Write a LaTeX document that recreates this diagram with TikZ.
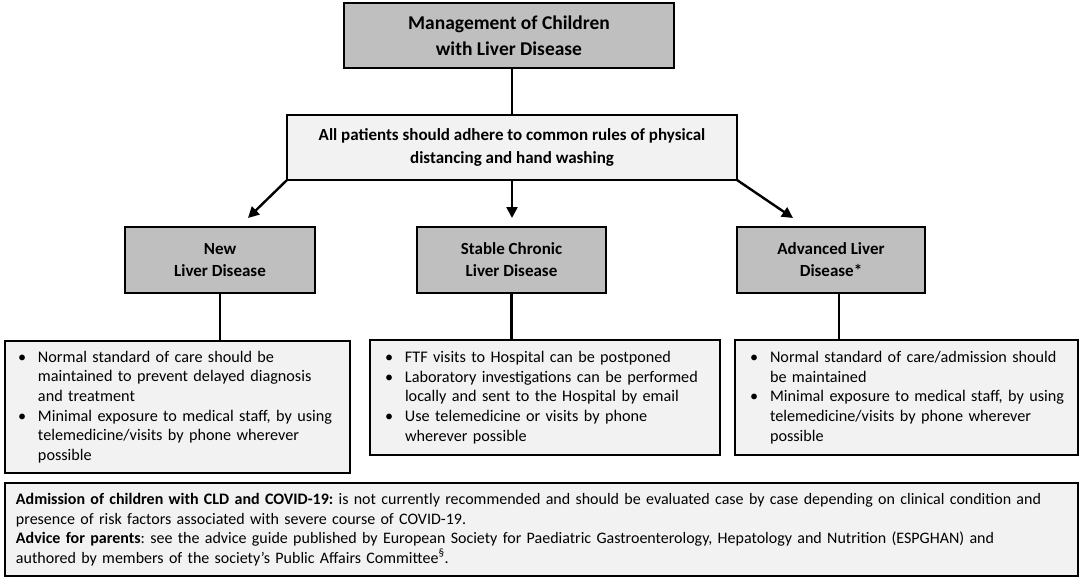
\documentclass[tikz,border=0pt]{standalone}
\usepackage{fontspec}
\setmainfont{Carlito}
\usetikzlibrary{arrows.meta}
\definecolor{boxdark}{RGB}{191,191,191}
\definecolor{boxlight}{RGB}{242,242,242}
\frenchspacing
\newcommand\bulmark[1]{\mbox{\makebox[20pt][l]{\textbullet}#1}}
\newcommand\bulind[1]{\mbox{\makebox[20pt][l]{}#1}}
\newcommand\oneline[1]{\mbox{#1}}
\begin{document}
\begin{tikzpicture}[x=1pt,y=-1pt,
  box/.style={draw=black, line width=2.4pt, inner ysep=0pt, outer sep=0pt, anchor=north west},
  darkbox/.style={box, fill=boxdark, inner xsep=0pt, align=center, font=\bfseries\fontsize{17}{22}\selectfont},
  titlebox/.style={darkbox, font=\bfseries\fontsize{19.5}{26}\selectfont},
  rulebox/.style={box, fill=boxlight, inner xsep=0pt, align=center, font=\bfseries\fontsize{17}{23}\selectfont},
  listbox/.style={box, fill=boxlight, align=left, font=\fontsize{16.2}{19.6}\selectfont},
  notebox/.style={listbox, font=\fontsize{16}{19.6}\selectfont},
  conn/.style={draw=black, line width=2.4pt},
  arr/.style={conn, -{Triangle[length=11pt,width=11pt]}}
]
\useasboundingbox (0,0) rectangle (1084,581);

\node[titlebox, minimum width=330pt, minimum height=65pt] (top) at (344,3)
  {Management of Children\\with Liver Disease};
\node[rulebox, minimum width=450pt, minimum height=65pt] (all) at (287,115)
  {All patients should adhere to common rules of physical\\distancing and hand washing};

\node[darkbox, minimum width=190pt, minimum height=66pt] (new) at (125,227)
  {New\\Liver Disease};
\node[darkbox, minimum width=189pt, minimum height=66pt] (stable) at (417,227)
  {Stable Chronic\\Liver Disease};
\node[darkbox, minimum width=188pt, minimum height=66pt] (adv) at (737,227)
  {Advanced Liver\\Disease*};

\node[listbox, inner xsep=13pt, text width=319pt, minimum height=132pt] (b1) at (5,341)
  {\bulmark{Normal standard of care should be}\\
   \bulind{maintained to prevent delayed diagnosis}\\
   \bulind{and treatment}\\
   \bulmark{Minimal exposure to medical staff, by using}\\
   \bulind{telemedicine/visits by phone wherever}\\
   \bulind{possible}};
\node[listbox, inner xsep=15pt, text width=320pt, minimum height=115pt] (b2) at (370,340)
  {\bulmark{FTF visits to Hospital can be postponed}\\
   \bulmark{Laboratory investigations can be performed}\\
   \bulind{locally and sent to the Hospital by email}\\
   \bulmark{Use telemedicine or visits by phone}\\
   \bulind{wherever possible}};
\node[listbox, inner xsep=15pt, text width=313pt, minimum height=115pt] (b3) at (735,340)
  {\bulmark{Normal standard of care/admission should}\\
   \bulind{be maintained}\\
   \bulmark{Minimal exposure to medical staff, by using}\\
   \bulind{telemedicine/visits by phone wherever}\\
   \bulind{possible}};

\node[notebox, inner xsep=11pt, text width=1051pt, minimum height=93pt] (note) at (5,483)
  {\oneline{\textbf{Admission of children with CLD and COVID-19:} is not currently recommended and should be evaluated case by case depending on clinical condition and}\\
   \oneline{presence of risk factors associated with severe course of COVID-19.}\\
   \oneline{\textbf{Advice for parents}: see the advice guide published by European Society for Paediatric Gastroenterology, Hepatology and Nutrition (ESPGHAN) and}\\
   \oneline{authored by members of the society’s Public Affairs Committee\textsuperscript{§}.}};

\coordinate (ltip) at (248,218);
\coordinate (mtip) at (512,218);
\coordinate (rtip) at (793,218);

\draw[conn] (all.north |- top.south) -- (all.north);
\draw[arr] (all.south west) -- (ltip);
\draw[arr] (all.south) -- (mtip);
\draw[arr] (all.south east) -- (rtip);

\draw[conn] (new.south) -- (new.south |- b1.north);
\draw[conn] (stable.south) -- (stable.south |- b2.north);
\draw[conn] ([xshift=8pt]adv.south) -- ([xshift=8pt]adv.south |- b3.north);
\end{tikzpicture}
\end{document}
